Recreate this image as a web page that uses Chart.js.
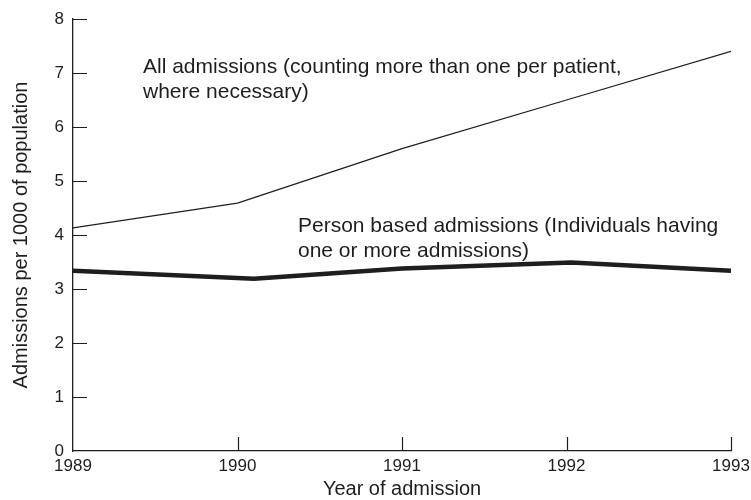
<!DOCTYPE html>
<html>
<head>
<meta charset="utf-8">
<script src="https://cdn.jsdelivr.net/npm/chart.js@4"></script>
<style>
  body { margin: 0; background: #fff; }
  #wrap { width: 751px; height: 500px; }
</style>
</head>
<body>
<div id="wrap"><canvas id="chart" width="751" height="500"></canvas></div>
<script>
// Admission rates per 1000 population
const allYears = [1989, 1990, 1991, 1992, 1993];
const allAdmissions = [4.13, 4.59, 5.60, 6.50, 7.40];

const personYears = [1989, 1990.1, 1991, 1992.03, 1993];
const personAdmissions = [3.34, 3.19, 3.38, 3.49, 3.34];

const yTicks = [0, 1, 2, 3, 4, 5, 6, 7, 8];
const xTicks = [1989, 1990, 1991, 1992, 1993];

const ink = '#1e1e1e';
const fontFamily = 'Arial, "Liberation Sans", Helvetica, sans-serif';

// Text labels sitting inside the plot
const notes = [
    { x: 143, y: 67, lines: ['All admissions (counting more than one per patient,', 'where necessary)'] },
    { x: 298, y: 226, lines: ['Person based admissions (Individuals having', 'one or more admissions)'] }
];

function toPoints(xs, ys) {
    return xs.map((x, i) => ({ x: x, y: ys[i] }));
}

// Tick marks point inwards on this figure, so draw them ourselves
const innerTicks = {
    id: 'innerTicks',
    afterDraw(chart) {
        const ctx = chart.ctx;
        const xs = chart.scales.x;
        const ys = chart.scales.y;
        const area = chart.chartArea;
        ctx.save();
        ctx.strokeStyle = ink;
        ctx.lineWidth = 1.2;
        ctx.beginPath();
        yTicks.filter(v => v > 0).forEach(v => {
            const py = Math.round(ys.getPixelForValue(v)) + 0.5;
            ctx.moveTo(area.left, py);
            ctx.lineTo(area.left + 14, py);
        });
        xTicks.filter(v => v > xTicks[0]).forEach(v => {
            const px = Math.round(xs.getPixelForValue(v)) + 0.5;
            ctx.moveTo(px, area.bottom);
            ctx.lineTo(px, area.bottom - 14);
        });
        ctx.stroke();

        ctx.fillStyle = ink;
        ctx.font = '21px ' + fontFamily;
        ctx.textAlign = 'left';
        ctx.textBaseline = 'middle';
        notes.forEach(n => {
            n.lines.forEach((t, i) => ctx.fillText(t, n.x, n.y + i * 25));
        });
        ctx.restore();
    }
};

new Chart(document.getElementById('chart'), {
    type: 'line',
    data: {
        datasets: [
            {
                label: 'All admissions',
                data: toPoints(allYears, allAdmissions),
                borderColor: ink,
                borderWidth: 1.3,
                pointRadius: 0,
                tension: 0
            },
            {
                label: 'Person based admissions',
                data: toPoints(personYears, personAdmissions),
                borderColor: ink,
                borderWidth: 4.5,
                pointRadius: 0,
                tension: 0
            }
        ]
    },
    options: {
        responsive: false,
        animation: false,
        layout: { padding: { top: 19, right: 20, left: 0, bottom: 0 } },
        plugins: {
            legend: { display: false },
            tooltip: { enabled: false }
        },
        scales: {
            x: {
                type: 'linear',
                min: 1989,
                max: 1993,
                afterBuildTicks: scale => { scale.ticks = xTicks.map(v => ({ value: v })); },
                afterFit: scale => {
                    scale.height = 49;
                    scale.paddingLeft = 0;
                    scale.paddingRight = 0;
                },
                grid: { display: true, drawOnChartArea: false, drawTicks: false },
                border: { display: true, color: ink, width: 1.3 },
                ticks: {
                    color: ink,
                    padding: 5,
                    maxRotation: 0,
                    font: { size: 17, family: fontFamily },
                    callback: v => String(v)
                },
                title: {
                    display: true,
                    text: 'Year of admission',
                    color: ink,
                    font: { size: 20, family: fontFamily, lineHeight: 1 },
                    padding: { top: 0, bottom: 1 }
                }
            },
            y: {
                min: 0,
                max: 8,
                afterBuildTicks: scale => { scale.ticks = yTicks.map(v => ({ value: v })); },
                afterFit: scale => {
                    scale.width = 73;
                    scale.paddingTop = 0;
                    scale.paddingBottom = 0;
                },
                grid: { display: true, drawOnChartArea: false, drawTicks: false },
                border: { display: true, color: ink, width: 1.3 },
                ticks: {
                    color: ink,
                    padding: 9,
                    font: { size: 17, family: fontFamily }
                },
                title: {
                    display: true,
                    text: 'Admissions per 1000 of population',
                    color: ink,
                    font: { size: 20, family: fontFamily, lineHeight: 1 },
                    padding: { top: 11, bottom: 0 }
                }
            }
        }
    },
    plugins: [innerTicks]
});
</script>
</body>
</html>
